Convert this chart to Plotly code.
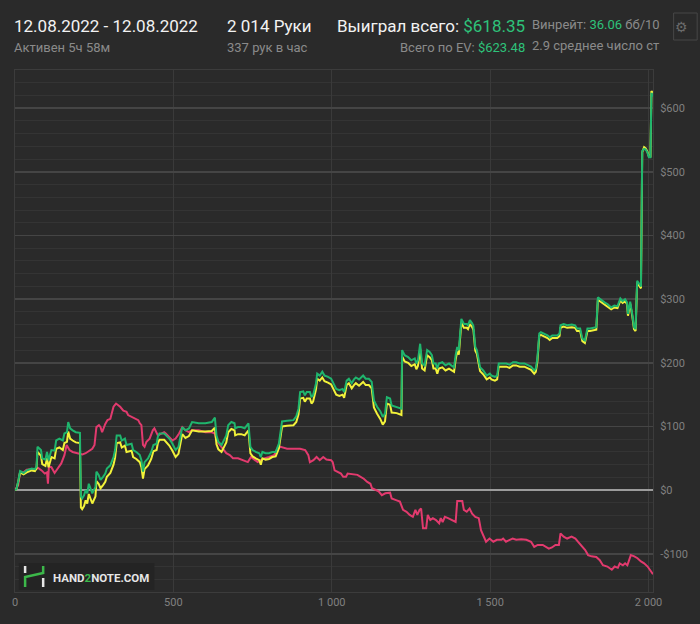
import plotly.graph_objects as go

# ---------------- data ----------------
hands_won = [0, 5, 11, 16, 27, 37, 53, 63, 68, 71,
             82, 86, 96, 101, 106, 115, 125, 130, 140, 151,
             156, 164, 168, 174, 182, 192, 205, 208, 212, 218,
             223, 228, 233, 239, 244, 254, 257, 264, 270, 278,
             285, 290, 301, 311, 316, 321, 332, 337, 347, 352,
             368, 373, 383, 394, 399, 404, 409, 420, 430, 437,
             447, 451, 456, 471, 487, 497, 507, 516, 523, 528,
             538, 549, 559, 580, 601, 621, 631, 636, 642, 652,
             662, 667, 673, 683, 693, 695, 704, 714, 725, 737,
             743, 750, 760, 771, 776, 781, 791, 802, 812, 823,
             833, 843, 859, 879, 888, 895, 900, 910, 915, 921,
             931, 936, 941, 950, 954, 962, 970, 977, 988, 998,
             1003, 1014, 1024, 1034, 1039, 1047, 1054, 1063, 1070, 1076,
             1086, 1099, 1107, 1117, 1126, 1133, 1143, 1153, 1161, 1168,
             1174, 1184, 1189, 1205, 1220, 1222, 1230, 1241, 1251, 1262,
             1267, 1272, 1279, 1285, 1293, 1301, 1309, 1316, 1321, 1328,
             1333, 1338, 1349, 1359, 1370, 1377, 1386, 1391, 1396, 1401,
             1409, 1417, 1426, 1430, 1436, 1443, 1447, 1453, 1458, 1463,
             1468, 1478, 1489, 1499, 1504, 1515, 1522, 1527, 1535, 1551,
             1561, 1572, 1582, 1593, 1608, 1618, 1629, 1639, 1644, 1649,
             1655, 1660, 1670, 1681, 1688, 1696, 1712, 1719, 1722, 1732,
             1743, 1758, 1768, 1774, 1784, 1791, 1799, 1807, 1815, 1825,
             1835, 1840, 1851, 1861, 1871, 1882, 1892, 1902, 1911, 1918,
             1926, 1932, 1935, 1942, 1949, 1954, 1959, 1964, 1972, 1976,
             1980, 1986, 1991, 1996, 2001, 2006, 2009, 2011, 2014]

won = [0, 2, 16, 30, 27, 31, 34, 33, 37, 68,
       63, 50, 48, 60, 47, 63, 62, 78, 81, 78,
       89, 91, 107, 97, 94, 91, 90, -10, -13, -8,
       0, -5, 10, 0, -5, 5, 29, 24, 16, 21,
       26, 34, 39, 52, 63, 86, 86, 78, 81, 71,
       73, 63, 60, 55, 47, 29, 44, 50, 60, 71,
       73, 84, 89, 89, 81, 73, 63, 68, 84, 99,
       94, 97, 107, 105, 105, 107, 114, 86, 76, 71,
       81, 86, 102, 107, 105, 97, 99, 99, 97, 105,
       68, 63, 60, 58, 52, 60, 58, 58, 60, 60,
       73, 108, 109, 110, 116, 128, 154, 155, 149, 154,
       154, 146, 149, 167, 183, 180, 186, 180, 178, 175,
       170, 159, 157, 159, 154, 172, 175, 168, 174, 177,
       174, 180, 175, 175, 170, 141, 131, 124, 115, 120,
       146, 144, 133, 131, 128, 220, 212, 209, 204, 207,
       199, 204, 230, 199, 196, 220, 217, 212, 199, 199,
       191, 199, 201, 196, 199, 196, 193, 212, 225, 220,
       269, 261, 261, 259, 267, 262, 258, 225, 220, 207,
       193, 188, 180, 183, 180, 178, 180, 199, 199, 199,
       197, 201, 201, 199, 199, 197, 194, 188, 191, 207,
       246, 248, 246, 243, 240, 243, 243, 246, 259, 261,
       259, 260, 259, 254, 254, 238, 235, 254, 254, 255,
       256, 303, 298, 295, 292, 287, 290, 289, 301, 297,
       300, 295, 277, 296, 275, 256, 253, 329, 323, 320,
       533, 536, 535, 531, 523, 523, 624, 622, 618.35]

ev = [0, 2, 15, 28, 25, 28, 31, 30, 34, 60,
      54, 41, 38, 50, 36, 52, 50, 65, 67, 63,
      74, 76, 92, 81, 78, 75, 74, -27, -30, -25,
      -16, -21, -6, -16, -21, -10, 14, 10, 3, 8,
      13, 21, 27, 40, 51, 74, 75, 67, 70, 60,
      62, 52, 49, 44, 36, 18, 33, 39, 49, 61,
      63, 74, 79, 79, 70, 62, 52, 57, 73, 88,
      82, 85, 94, 92, 92, 93, 98, 72, 64, 60,
      70, 75, 91, 96, 94, 86, 88, 88, 86, 94,
      58, 53, 50, 47, 40, 50, 48, 49, 52, 53,
      66, 100, 101, 102, 107, 119, 144, 145, 139, 144,
      144, 136, 139, 158, 175, 172, 177, 171, 169, 166,
      161, 150, 148, 150, 145, 165, 168, 160, 165, 168,
      164, 170, 165, 165, 160, 130, 120, 112, 103, 108,
      136, 134, 122, 121, 118, 210, 202, 200, 195, 198,
      190, 195, 222, 191, 188, 212, 209, 204, 191, 191,
      183, 191, 193, 188, 191, 189, 186, 205, 218, 213,
      263, 255, 255, 253, 261, 256, 252, 219, 214, 201,
      187, 182, 174, 177, 174, 172, 174, 194, 194, 194,
      192, 196, 196, 194, 194, 192, 189, 183, 186, 202,
      242, 244, 242, 239, 236, 239, 239, 242, 255, 257,
      255, 256, 255, 250, 250, 234, 231, 250, 250, 251,
      252, 299, 295, 292, 289, 284, 287, 286, 298, 294,
      297, 292, 274, 293, 272, 253, 250, 326, 320, 317,
      531, 539, 537, 532, 524, 524, 627, 626, 623.48]

hands_nsd = [0, 10, 16, 27, 37, 50, 63, 73, 84, 94,
             101, 104, 107, 115, 125, 135, 146, 156, 163, 172,
             182, 197, 213, 223, 233, 244, 251, 257, 265, 270,
             275, 280, 285, 292, 301, 311, 319, 327, 332, 342,
             352, 357, 368, 378, 389, 394, 399, 404, 409, 415,
             425, 435, 440, 451, 461, 471, 476, 487, 497, 507,
             518, 528, 538, 549, 559, 580, 601, 621, 631, 636,
             647, 657, 667, 678, 688, 704, 719, 735, 745, 756,
             766, 776, 787, 802, 818, 828, 838, 859, 880, 900,
             916, 926, 931, 942, 952, 962, 973, 983, 998, 1003,
             1009, 1019, 1029, 1036, 1045, 1050, 1060, 1071, 1081, 1091,
             1101, 1112, 1122, 1127, 1138, 1148, 1158, 1169, 1184, 1189,
             1205, 1215, 1225, 1236, 1246, 1256, 1264, 1270, 1277, 1282,
             1288, 1298, 1303, 1311, 1319, 1329, 1339, 1344, 1350, 1357,
             1367, 1381, 1391, 1396, 1412, 1417, 1426, 1435, 1443, 1453,
             1464, 1471, 1479, 1487, 1498, 1510, 1521, 1536, 1541, 1550,
             1562, 1571, 1582, 1598, 1614, 1629, 1639, 1650, 1666, 1677,
             1685, 1695, 1706, 1717, 1722, 1732, 1743, 1757, 1769, 1777,
             1790, 1800, 1809, 1820, 1835, 1846, 1856, 1870, 1884, 1893,
             1903, 1909, 1919, 1926, 1933, 1944, 1955, 1965, 1976, 1986,
             1997, 2005, 2014]

nsd = [0, 8, 28, 28, 32, 33, 32, 35, 31, 26,
       28, 10, 37, 36, 27, 34, 42, 55, 71, 63,
       60, 58, 56, 58, 62, 65, 71, 99, 102, 99,
       91, 99, 104, 110, 112, 131, 136, 133, 131, 125,
       123, 118, 115, 112, 110, 105, 102, 71, 68, 76,
       81, 94, 97, 86, 89, 91, 89, 84, 78, 81,
       89, 99, 94, 91, 94, 94, 91, 91, 89, 78,
       71, 63, 58, 55, 50, 50, 47, 44, 52, 47,
       44, 47, 50, 52, 55, 65, 68, 65, 65, 65,
       63, 55, 44, 47, 52, 47, 52, 48, 47, 44,
       31, 29, 26, 21, 21, 26, 25, 24, 24, 21,
       18, 13, 10, 3, 0, -2, -8, -5, -4, -13,
       -16, -18, -31, -34, -39, -42, -31, -39, -31, -29,
       -60, -60, -39, -47, -44, -47, -52, -44, -50, -42,
       -44, -47, -50, -17, -17, -31, -34, -29, -37, -42,
       -44, -63, -73, -81, -76, -81, -78, -78, -76, -81,
       -78, -76, -78, -77, -78, -81, -89, -86, -86, -89,
       -92, -90, -86, -86, -68, -73, -76, -73, -76, -81,
       -89, -94, -102, -104, -105, -110, -118, -120, -125, -120,
       -122, -115, -118, -115, -118, -102, -104, -107, -112, -115,
       -120, -125, -132]

x_tick_vals = [0, 500, 1000, 1500, 2000]
x_tick_text = ["0", "500", "1 000", "1 500", "2 000"]
y_tick_vals = [-100, 0, 100, 200, 300, 400, 500, 600]
y_tick_text = ["-$100", "$0", "$100", "$200", "$300", "$400", "$500", "$600"]

# ---------------- style ----------------
BG = "#2a2a2a"
GREEN = "#1fb56d"
YELLOW = "#f2f23a"
PINK = "#e23a6e"
TXT_GREEN = "#2ec27a"
GREY = "#8a8a8a"
FONT = "Roboto"

L, R, T, B = 13, 663, 70, 592
W, H = 700, 624


def px(x):
    return (x - L) / (R - L)


def py(y):
    return (B - y) / (B - T)


fig = go.Figure()
fig.add_trace(go.Scatter(x=hands_nsd, y=nsd, mode="lines",
                         line=dict(color=PINK, width=2), hoverinfo="skip"))
fig.add_trace(go.Scatter(x=hands_won, y=ev, mode="lines",
                         line=dict(color=YELLOW, width=2), hoverinfo="skip"))
fig.add_trace(go.Scatter(x=hands_won, y=won, mode="lines",
                         line=dict(color=GREEN, width=2), hoverinfo="skip"))

fig.update_layout(
    width=W, height=H, autosize=False,
    paper_bgcolor=BG, plot_bgcolor=BG,
    margin=dict(l=L, r=W - R, t=T, b=H - B),
    showlegend=False,
    font=dict(family=FONT, color=GREY),
    xaxis=dict(range=[0, 2014], tickvals=x_tick_vals, ticktext=x_tick_text,
               showgrid=True, gridcolor="#3a3a3a", gridwidth=1,
               zeroline=False, showline=True, linecolor="#3c3c3c", mirror=True,
               ticks="", tickfont=dict(size=11, color="#808080", family=FONT),
               fixedrange=True),
    yaxis=dict(range=[-160, 660], side="right", tickvals=y_tick_vals, ticktext=y_tick_text,
               showgrid=True, gridcolor="#454545", gridwidth=1.5,
               minor=dict(dtick=20, tick0=0, showgrid=True, gridcolor="#343434", gridwidth=1),
               zeroline=True, zerolinecolor="#9c9c9c", zerolinewidth=2,
               showline=True, linecolor="#3c3c3c", mirror=True,
               ticks="", ticklabelstandoff=4,
               tickfont=dict(size=11, color="#808080", family=FONT),
               fixedrange=True),
)

ann = []


def text(x, y, s, size, color, anchor="left"):
    ann.append(dict(x=px(x), y=py(y), xref="paper", yref="paper", text=s,
                    showarrow=False, xanchor=anchor, yanchor="middle",
                    font=dict(size=size, color=color, family=FONT),
                    align=anchor))


text(10, 26, "12.08.2022 - 12.08.2022", 17, "#f2f2f2")
text(10, 47, "Активен 5ч 58м", 13, GREY)
text(227, 26, "2 014 Руки", 17, "#f2f2f2")
text(227, 47, "337 рук в час", 13, GREY)
text(535, 26, "Выиграл всего: <span style='color:%s'>$618.35</span>" % TXT_GREEN, 17, "#f2f2f2", anchor="right")
text(535, 47, "Всего по EV: <span style='color:%s'>$623.48</span>" % TXT_GREEN, 13, GREY, anchor="right")
text(538, 25, "Винрейт: <span style='color:%s'>36.06</span> бб/10" % TXT_GREEN, 13, GREY)
text(538, 45, "2.9 среднее число ст", 13, GREY)

# logo text
ann.append(dict(x=px(50), y=py(577.5), xref="paper", yref="paper",
                text="<b>HAND<span style='color:#3cb84a'>2</span>NOTE.COM</b>",
                showarrow=False, xanchor="left", yanchor="middle",
                font=dict(size=11.5, color="#e6e6e6", family=FONT)))
# gear glyph
ann.append(dict(x=px(692), y=py(27), xref="paper", yref="paper", text="⚙",
                showarrow=False, xanchor="center", yanchor="middle",
                font=dict(size=14, color="#6a6a6a", family="DejaVu Sans")))

shapes = [
    # logo box
    dict(type="rect", xref="paper", yref="paper", x0=px(17), x1=px(155), y0=py(590), y1=py(563),
         fillcolor="#242424", line=dict(width=0), layer="above"),
    # logo icon
    dict(type="path", xref="paper", yref="paper",
         path="M %f,%f L %f,%f L %f,%f L %f,%f" % (px(23.3), py(587), px(23.3), py(577),
                                                   px(41.7), py(573), px(41.7), py(566)),
         line=dict(color="#3cb84a", width=2.5), layer="above"),
    dict(type="line", xref="paper", yref="paper", x0=px(23.3), x1=px(23.3), y0=py(566), y1=py(573),
         line=dict(color="#e6e6e6", width=2.5), layer="above"),
    dict(type="line", xref="paper", yref="paper", x0=px(41.7), x1=px(41.7), y0=py(578), y1=py(587),
         line=dict(color="#e6e6e6", width=2.5), layer="above"),
    # gear button
    dict(type="rect", xref="paper", yref="paper", x0=px(684), x1=px(708), y0=py(40), y1=py(13),
         fillcolor="rgba(0,0,0,0)", line=dict(color="#474747", width=1)),
]

fig.update_layout(annotations=ann, shapes=shapes)
fig.write_html("out.html",
               config={"displayModeBar": False, "staticPlot": True},
               post_script="document.body.style.margin='0';"
                           "document.body.style.background='#2a2a2a';")
